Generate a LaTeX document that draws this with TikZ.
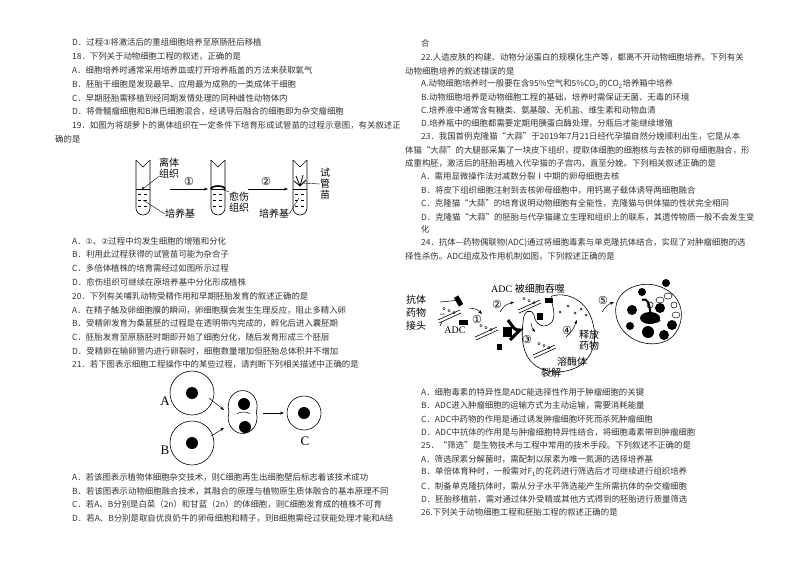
\documentclass[tikz,border=0pt]{standalone}
\usepackage{fontspec}
\setmainfont{Noto Sans CJK SC}
\newfontfamily\lat{Liberation Serif}
\newfontfamily\djfont{DejaVu Sans}
\usetikzlibrary{arrows.meta}
\tikzset{tx/.style={anchor=west,inner sep=0,font=\fontsize{8.4}{9}\selectfont,text=black!80},
lab/.style={inner sep=0,font=\fontsize{10}{11}\selectfont},
cell/.style={draw,line width=0.6pt},
arr/.style={-{Stealth[length=4pt]},line width=0.5pt}}
\newcommand\T[4]{\node[tx] (#1) at (#2,#3) {#4};}
\newcommand\cn[1]{{\djfont\fontsize{11}{11}\selectfont #1}}
\newcommand\cs[1]{{\djfont\fontsize{8}{8}\selectfont #1}}
\begin{document}
\begin{tikzpicture}[x=1pt,y=-1pt]
\useasboundingbox[fill=white] (0,0) rectangle (794,560);
% left column
\T{l1}{72}{42}{D．过程\cs{③}将激活后的重组细胞培养至原肠胚后移植}
\T{l2}{72}{56}{18．下列关于动物细胞工程的叙述，正确的是}
\T{l3}{72}{70}{A．细胞培养时通常采用培养皿或打开培养瓶盖的方法来获取氧气}
\T{l4}{72}{84}{B．胚胎干细胞是发现最早、应用最为成熟的一类成体干细胞}
\T{l5}{72}{98}{C．早期胚胎需移植到经同期发情处理的同种雌性动物体内}
\T{l6}{72}{111}{D．将骨髓瘤细胞和B淋巴细胞混合，经诱导后融合的细胞即为杂交瘤细胞}
\T{l7}{72}{125}{19．如图为将胡萝卜的离体组织在一定条件下培育形成试管苗的过程示意图，有关叙述正}
\T{l8}{55}{139}{确的是}
% tubes
\foreach \n/\x in {ta/143,tb/218,tc/300}{
 \draw[cell] (\x-7,160) -- (\x-7,208) arc (180:0:7) -- (\x+7,160);
 \draw[line width=0.4pt] (\x-7,160) -- (\x,167) -- (\x+7,160);
 \foreach \yy in {194,200,206} \draw[dashed,line width=0.4pt] (\x-5,\yy) -- (\x+5,\yy);
 \draw[line width=0.4pt] (\x-7,189) -- (\x+7,189);
 \coordinate (\n) at (\x,189);
}
\fill (143,188) circle (1.2);
\draw[line width=1.6pt] (211,189) arc (180:360:7 and 3);
\draw[line width=0.8pt] (300,186) -- (296,176) (300,186) -- (303,175) (300,186)--(306,180) (300,186)--(294,181);
\node[lab,align=center] (n1) at (169,168) {离体\\组织};
\draw (n1.south west) ++(0,-2) -- (144,188);
\coordinate (a1s) at (170,189); \coordinate (a1e) at (208,189);
\draw[arr] (a1s) -- (a1e); \node[lab] (c1) at (189,181) {\cn{①}};
\coordinate (a2s) at (248,189); \coordinate (a2e) at (288,189);
\draw[arr] (a2s) -- (a2e); \node[lab] (c2) at (266,181) {\cn{②}};
\node[lab] (p1) at (180,214) {培养基}; \draw (p1.west) -- (143,200);
\node[lab,align=center] (yu) at (239,202) {愈伤\\组织}; \draw (yu.north west) -- (224,190);
\node[lab] (p2) at (274,214) {培养基}; \draw (p2.east) -- (299,198);
\node[lab,align=center] (sg) at (325,184) {试\\管\\苗}; \draw (sg.west) -- (303,183);
\T{l9}{72}{241}{A．\cs{①}、\cs{②}过程中均发生细胞的增殖和分化}
\T{l10}{72}{254}{B．利用此过程获得的试管苗可能为杂合子}
\T{l11}{72}{268}{C．多倍体植株的培育需经过如图所示过程}
\T{l12}{72}{282}{D．愈伤组织可继续在原培养基中分化形成植株}
\T{l13}{72}{296}{20．下列有关哺乳动物受精作用和早期胚胎发育的叙述正确的是}
\T{l14}{72}{310}{A．在精子触及卵细胞膜的瞬间，卵细胞膜会发生生理反应，阻止多精入卵}
\T{l15}{72}{323}{B．受精卵发育为桑葚胚的过程是在透明带内完成的，孵化后进入囊胚期}
\T{l16}{72}{337}{C．胚胎发育至原肠胚时期即开始了细胞分化，随后发育形成三个胚层}
\T{l17}{72}{351}{D．受精卵在输卵管内进行卵裂时，细胞数量增加但胚胎总体积并不增加}
\T{l18}{72}{364}{21．若下图表示细胞工程操作中的某些过程，请判断下列相关描述中正确的是}
% cells
\draw[cell] (192,393) circle (22); \fill (192,393) circle (6); \node[lab] (cA) at (192,393) {};
\draw[cell] (192,443) circle (22); \fill (192,443) circle (6); \node[lab] (cB) at (192,443) {};
\draw[cell] (229,412) arc (200:-20:14.5 and 16) arc (20:-200:14.5 and 16) -- cycle;
\fill (244,404) circle (6); \fill (245,427) circle (6);
\draw[line width=0.5pt] (237,414) arc (200:340:7 and 3);
\node[inner sep=0] (cF) at (244,415) {};
\draw[cell] (304,413) circle (17); \fill (304,413) circle (6); \node (cC) at (304,413) {};
\node[lab,font=\lat\fontsize{13}{13}\selectfont] (LA) at (165,401) {A};
\node[lab,font=\lat\fontsize{13}{13}\selectfont] (LB) at (165,450) {B};
\node[lab,font=\lat\fontsize{13}{13}\selectfont] (LC) at (305,441) {C};
\draw[arr] (209,398) -- (224,410);
\draw[arr] (211,436) -- (224,428);
\draw[arr] (263,413) -- (284,413);
\T{l19}{72}{477}{A．若该图表示植物体细胞杂交技术，则C细胞再生出细胞壁后标志着该技术成功}
\T{l20}{72}{491}{B．若该图表示动物细胞融合技术，其融合的原理与植物原生质体融合的基本原理不同}
\T{l21}{72}{504}{C．若A、B分别是白菜（2n）和甘蓝（2n）的体细胞，则C细胞发育成的植株不可育}
\T{l22}{72}{518}{D．若A、B分别是取自优良奶牛的卵母细胞和精子，则B细胞需经过获能处理才能和A结}
% right column
\T{r1}{421}{43}{合}
\T{r2}{421}{57}{22.人造皮肤的构建、动物分泌蛋白的规模化生产等，都离不开动物细胞培养。下列有关}
\T{r3}{405}{71}{动物细胞培养的叙述错误的是}
\T{r4}{421}{84}{A.动物细胞培养时一般要在含95\%空气和5\%CO\textsubscript{2}的CO\textsubscript{2}培养箱中培养}
\T{r5}{421}{97}{B.动物细胞培养是动物细胞工程的基础，培养时需保证无菌、无毒的环境}
\T{r6}{421}{110}{C.培养液中通常含有糖类、氨基酸、无机盐、维生素和动物血清}
\T{r7}{421}{123}{D.培养瓶中的细胞都需要定期用胰蛋白酶处理，分瓶后才能继续增殖}
\T{r8}{421}{136}{23．我国首例克隆猫“大蒜”于2019年7月21日经代孕猫自然分娩顺利出生，它是从本}
\T{r9}{405}{150}{体猫“大蒜”的大腿部采集了一块皮下组织，提取体细胞的细胞核与去核的卵母细胞融合，形}
\T{r10}{405}{163}{成重构胚，激活后的胚胎再植入代孕猫的子宫内，直至分娩。下列相关叙述正确的是}
\T{r11}{421}{176}{A．需用显微操作法对减数分裂Ⅰ中期的卵母细胞去核}
\T{r12}{421}{190}{B．将皮下组织细胞注射到去核卵母细胞中，用钙离子载体诱导两细胞融合}
\T{r13}{421}{203}{C．克隆猫“大蒜”的培育说明动物细胞有全能性，克隆猫与供体猫的性状完全相同}
\T{r14}{421}{217}{D．克隆猫“大蒜”的胚胎与代孕猫建立生理和组织上的联系，其遗传物质一般不会发生变}
\T{r15}{421}{229}{化}
\T{r16}{421}{243}{24．抗体—药物偶联物(ADC)通过将细胞毒素与单克隆抗体结合，实现了对肿瘤细胞的选}
\T{r17}{405}{256}{择性杀伤。ADC组成及作用机制如图，下列叙述正确的是}
% ADC diagram
\node[lab,anchor=west] (k1) at (406,300) {抗体};
\node[lab,anchor=west] (k2) at (406,313) {药物};
\node[lab,anchor=west] (k3) at (406,326) {接头};
\node[lab,font=\lat\fontsize{10}{11}\selectfont] (adc) at (455,330) {ADC};
\draw[line width=0.5pt] (440,302) -- (451,301) -- (457,300) (440,314) -- (445,314) (440,326)--(442,322);
\foreach \cx/\cy in {450/315, 487/332, 530/305, 545/350}{
 \draw[line width=0.6pt] (\cx-12,\cy+5) -- (\cx+10,\cy-5) (\cx-11,\cy+8) -- (\cx+11,\cy-2);
 \foreach \i in {-6,-1,4} \draw[line width=0.4pt] (\cx+\i,\cy-4+\i*0.4) circle (1.2);
}
\fill[rotate around={-60:(458,299)}] (455,297) rectangle (465,302);
\fill (459,320) rectangle (468,325);
\fill (503,327) -- (512,327) -- (512,337) -- (503,337) -- cycle;
\fill (497,344) rectangle (502,350);
\draw[line width=3pt] (508,320) .. controls (515,330) .. (520,330) .. controls (515,335) .. (510,340);
\fill (545,298) rectangle (553,303);
\fill (537,313) rectangle (543,320);
% tumor cell membrane
\draw[line width=0.6pt] (523,323) .. controls (520,345) and (525,370) .. (555,372) .. controls (590,372) and (600,345) .. (592,320) .. controls (585,298) and (565,292) .. (552,296) .. controls (548,298) and (558,312) .. (552,322) .. controls (545,330) and (535,325) .. (534,315) .. controls (531,308) and (523,310) .. (523,323);
\node[lab,font=\fontsize{10}{11}\selectfont] (eaten) at (528,289) {\lat ADC \rmfamily 被细胞吞噬};
\node[lab] (c1b) at (477,319) {\cn{①}}; \draw[arr] (469,308) .. controls (477,309) .. (482,314);
\node[lab] (c2b) at (497,304) {\cn{②}}; \draw[arr] (500,312) .. controls (505,305) .. (514,302);
\node[lab] (c3b) at (527,339) {\cn{③}}; \draw[arr] (531,323) .. controls (532,328) .. (535,332);
\node[lab] (c4b) at (567,330) {\cn{④}}; \draw[arr] (566,337) .. controls (573,330) .. (577,320);
\node[lab] (c5b) at (603,300) {\cn{⑤}}; \draw[arr] (602,312) .. controls (607,305) .. (614,302);
\node[lab,align=center] (sf) at (589,340) {释放\\药物};
\node[lab] (rm) at (572,362) {溶酶体}; \node[lab] (lj) at (551,373) {裂解};
\foreach \px/\py in {575/313,581/309,586/315,560/312,568/306}{\draw[line width=0.4pt] (\px,\py) circle (1.2);}
% dead cell
\draw[line width=0.6pt] (616,315) .. controls (612,290) and (640,280) .. (658,286) .. controls (690,296) and (685,330) .. (668,340) .. controls (650,350) and (620,340) .. (616,315);
\fill (642,292) circle (4) (632,310) circle (5) (650,318) ellipse (10 and 6) (660,308) circle (5) (648,332) circle (6) (664,335) circle (5) (630,326) circle (4) (672,325) circle (5) (666,283) circle (4);
\draw[line width=2pt] (642,300) .. controls (655,295) and (645,330) .. (660,320);
\foreach \px/\py/\rr in {660/300/4,668/296/4,674/305/3,676/315/4,650/305/3}{\draw[line width=0.5pt] (\px,\py) ellipse ({\rr} and 3);}
\T{r18}{421}{392}{A．细胞毒素的特异性是ADC能选择性作用于肿瘤细胞的关键}
\T{r19}{421}{405}{B．ADC进入肿瘤细胞的运输方式为主动运输，需要消耗能量}
\T{r20}{421}{419}{C．ADC中药物的作用是通过诱发肿瘤细胞坏死而杀死肿瘤细胞}
\T{r21}{421}{432}{D．ADC中抗体的作用是与肿瘤细胞特异性结合，将细胞毒素带到肿瘤细胞}
\T{r22}{421}{445}{25．“筛选”是生物技术与工程中常用的技术手段。下列叙述不正确的是}
\T{r23}{421}{459}{A．筛选尿素分解菌时，需配制以尿素为唯一氮源的选择培养基}
\T{r24}{421}{472}{B．单倍体育种时，一般需对F\textsubscript{1}的花药进行筛选后才可继续进行组织培养}
\T{r25}{421}{486}{C．制备单克隆抗体时，需从分子水平筛选能产生所需抗体的杂交瘤细胞}
\T{r26}{421}{499}{D．胚胎移植前，需对通过体外受精或其他方式得到的胚胎进行质量筛选}
\T{r27}{421}{512}{26.下列关于动物细胞工程和胚胎工程的叙述正确的是}
\end{tikzpicture}
\end{document}
